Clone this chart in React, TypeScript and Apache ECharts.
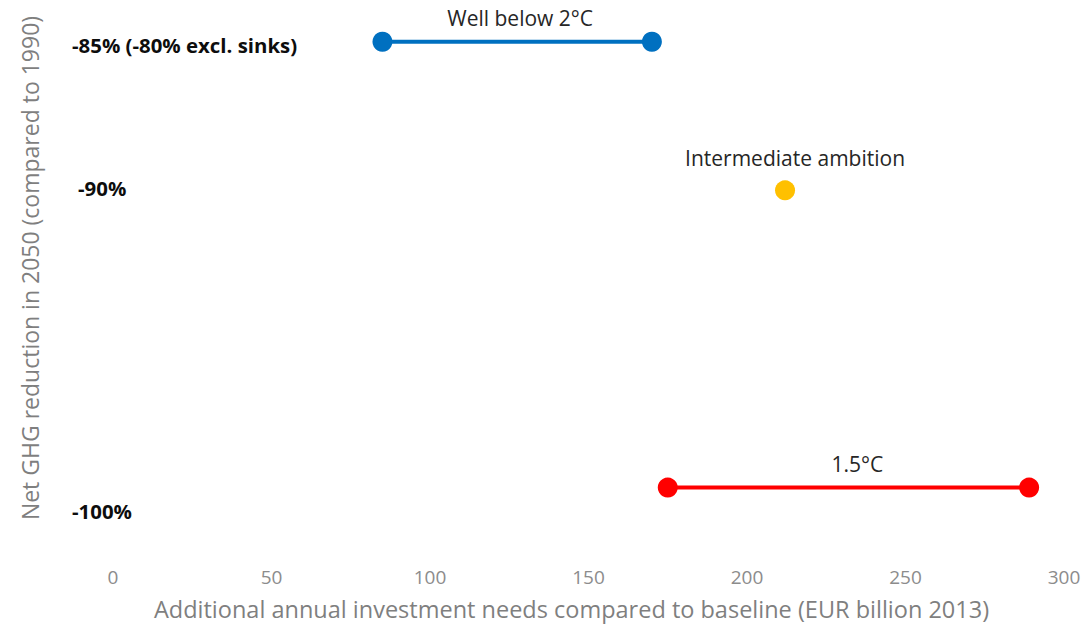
import React, { useEffect, useRef } from "react";
import * as echarts from "echarts";

const xTicks = [0, 50, 100, 150, 200, 250, 300];
const wellBelow2: [number, number][] = [[85, -85], [170, -85]];
const intermediate: [number, number][] = [[212, -90]];
const onePointFive: [number, number][] = [[175, -100], [289, -100]];
const yLabels = ["-85% (-80% excl. sinks)", "-90%", "-100%"];
const seriesNames = ["Well below 2°C", "Intermediate ambition", "1.5°C"];
const xTitle = "Additional annual investment needs compared to baseline (EUR billion 2013)";
const yTitle = "Net GHG reduction in 2050 (compared to 1990)";

const FONT = "Open Sans";

export default function App() {
  const ref = useRef<HTMLDivElement>(null);
  useEffect(() => {
    if (!ref.current) return;
    const chart = echarts.init(ref.current, null, { renderer: "svg" });
    const mid = (d: [number, number][]) => [(d[0][0] + d[d.length - 1][0]) / 2, d[0][1]];
    const lbl = (text: string, dx: number, dy: number) => ({
      show: true,
      formatter: text,
      position: "inside",
      offset: [dx, dy],
      color: "#262626",
      fontSize: 21,
      fontFamily: FONT,
    });
    chart.setOption({
      animation: false,
      textStyle: { fontFamily: FONT },
      grid: { left: 113, right: 22, top: 12, bottom: 78.5 },
      xAxis: {
        type: "value",
        min: xTicks[0],
        max: xTicks[xTicks.length - 1],
        interval: 50,
        axisLine: { show: false },
        axisTick: { show: false },
        splitLine: { show: false },
        axisLabel: { color: "#8c8c8c", fontSize: 19, margin: 20, fontFamily: FONT },
        name: xTitle,
        nameLocation: "middle",
        nameGap: 50,
        nameTextStyle: {
          color: "#7f7f7f",
          fontSize: 23.5,
          fontFamily: FONT,
          padding: [0, 34, 0, 0],
        },
      },
      yAxis: {
        type: "value",
        min: -102,
        max: -84,
        axisLine: { show: false },
        axisTick: { show: false },
        splitLine: { show: false },
        axisLabel: { show: false },
      },
      graphic: [
        {
          type: "text",
          x: 30,
          y: 268,
          rotation: Math.PI / 2,
          style: {
            text: yTitle,
            fill: "#7f7f7f",
            fontSize: 23,
            fontFamily: FONT,
            align: "center",
            verticalAlign: "middle",
          },
        },
        ...[45, 188, 511].map((y, i) => ({
          type: "text",
          x: i === 1 ? 78 : 72,
          y,
          style: {
            text: yLabels[i],
            fill: "#0d0d0d",
            fontSize: 20.4,
            fontWeight: "bold",
            fontFamily: FONT,
            align: "left",
            verticalAlign: "middle",
          },
        })),
      ],
      series: [
        {
          name: seriesNames[0],
          type: "line",
          data: wellBelow2,
          symbol: "circle",
          symbolSize: 20,
          itemStyle: { color: "#0070C0" },
          lineStyle: { color: "#0070C0", width: 4 },
          markPoint: {
            symbolSize: 0,
            data: [{ coord: mid(wellBelow2), label: lbl(seriesNames[0], 3, -24) }],
          },
        },
        {
          name: seriesNames[1],
          type: "scatter",
          data: intermediate,
          symbol: "circle",
          symbolSize: 20,
          itemStyle: { color: "#FFC000", opacity: 1 },
          markPoint: {
            symbolSize: 0,
            data: [{ coord: mid(intermediate), label: lbl(seriesNames[1], 10, -32) }],
          },
        },
        {
          name: seriesNames[2],
          type: "line",
          data: onePointFive,
          symbol: "circle",
          symbolSize: 20,
          itemStyle: { color: "#FF0000" },
          lineStyle: { color: "#FF0000", width: 4 },
          markPoint: {
            symbolSize: 0,
            data: [{ coord: mid(onePointFive), label: lbl(seriesNames[2], 9, -24) }],
          },
        },
      ],
    });
    return () => chart.dispose();
  }, []);
  return (
    <div
      ref={ref}
      style={{ position: "fixed", left: 0, top: 0, width: 1086, height: 626, background: "#fff" }}
    />
  );
}
